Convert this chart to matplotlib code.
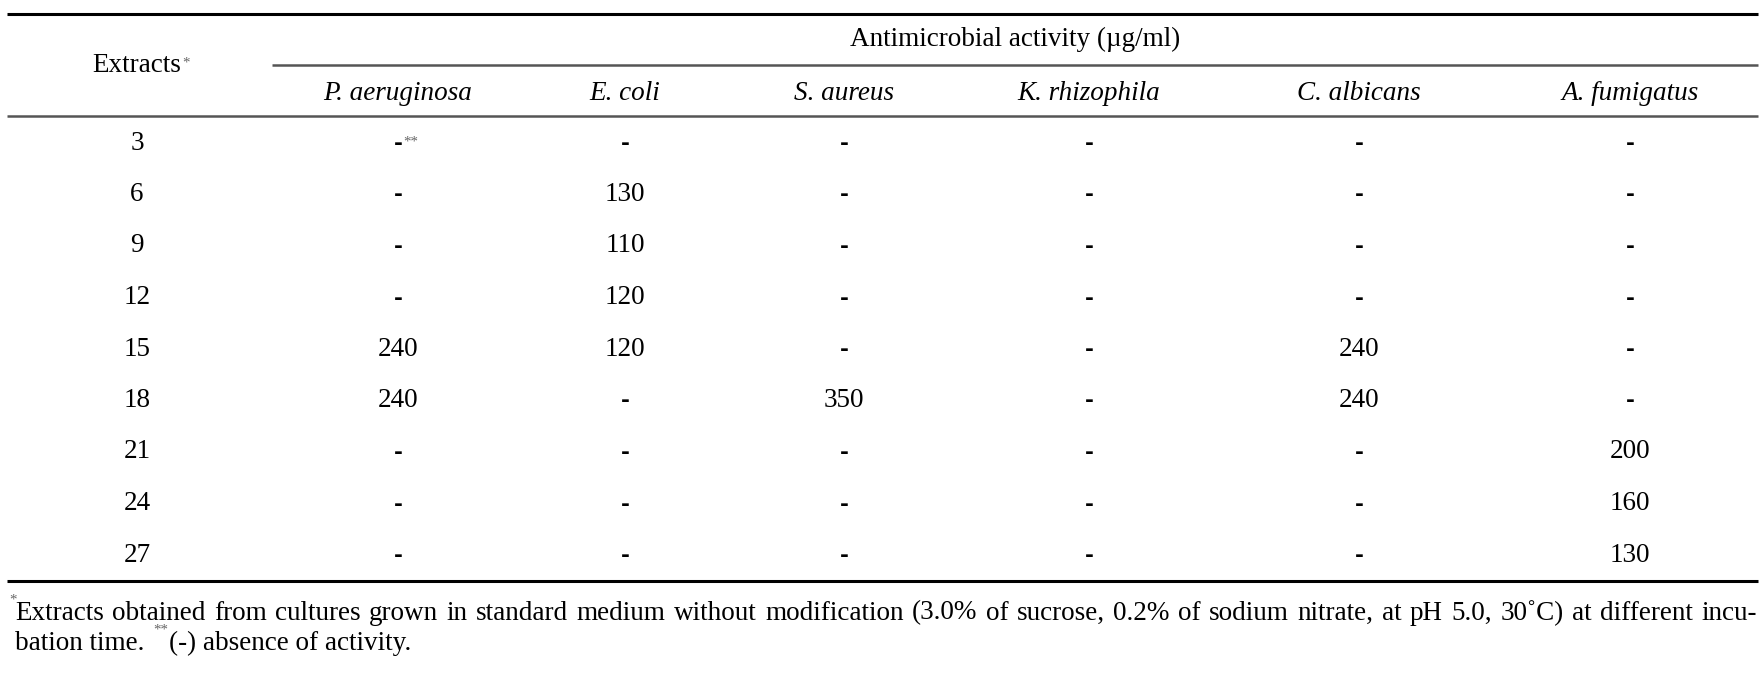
import matplotlib
matplotlib.use("Agg")
import matplotlib.pyplot as plt

# ---- data ----
extracts = [3, 6, 9, 12, 15, 18, 21, 24, 27]
species = ["P. aeruginosa", "E. coli", "S. aureus", "K. rhizophila", "C. albicans", "A. fumigatus"]
p_aeruginosa = [None, None, None, None, 240, 240, None, None, None]
e_coli = [None, 130, 110, 120, 120, None, None, None, None]
s_aureus = [None, None, None, None, None, 350, None, None, None]
k_rhizophila = [None, None, None, None, None, None, None, None, None]
c_albicans = [None, None, None, None, 240, 240, None, None, None]
a_fumigatus = [None, None, None, None, None, None, 200, 160, 130]
group_title = "Antimicrobial activity (\u00b5g/ml)"
row_header = "Extracts"
footnote1 = "Extracts obtained from cultures grown in standard medium without modification (3.0% of sucrose, 0.2% of sodium nitrate, at pH 5.0, 30\u02daC) at different incu-"
footnote2a = "bation time. "
footnote2b = "(-) absence of activity."

columns = [p_aeruginosa, e_coli, s_aureus, k_rhizophila, c_albicans, a_fumigatus]

# ---- layout ----
W, H = 1761, 677
FONT = "Liberation Serif"
FS = 19.5
SUP = FS * 0.55
fig = plt.figure(figsize=(W / 100, H / 100), dpi=100)
ax = fig.add_axes([0, 0, 1, 1])
ax.set_xlim(0, W)
ax.set_ylim(H, 0)
ax.axis("off")

col_x = [398, 625, 844, 1089, 1359, 1630]
ext_x = 137
y_top, y_sub, y_head, y_bot = 14, 65, 116, 581
row_y0, row_dy = 143, 51.5

ax.plot([7, 1758], [y_top, y_top], color="black", lw=2.2, solid_capstyle="butt")
ax.plot([272, 1758], [y_sub, y_sub], color="#555555", lw=1.8, solid_capstyle="butt")
ax.plot([7, 1758], [y_head, y_head], color="#555555", lw=1.8, solid_capstyle="butt")
ax.plot([7, 1758], [y_bot, y_bot], color="black", lw=2.2, solid_capstyle="butt")

ax.text(1015, 39, group_title, ha="center", va="center", fontsize=FS, family=FONT)
t_ext = ax.text(ext_x, 65, row_header, ha="center", va="center", fontsize=FS, family=FONT)
for x, name in zip(col_x, species):
    ax.text(x, 93, name, ha="center", va="center", fontsize=FS, family=FONT, style="italic")

dash_texts = {}
for i, e in enumerate(extracts):
    y = row_y0 + i * row_dy
    ax.text(ext_x, y, str(e), ha="center", va="center", fontsize=FS, family=FONT)
    for j, col in enumerate(columns):
        v = col[i]
        if v is None:
            t = ax.text(col_x[j], y + 1, "-", ha="center", va="center", fontsize=FS * 0.8,
                        family="DejaVu Sans", fontweight="bold")
            dash_texts[(i, j)] = t
        else:
            ax.text(col_x[j], y, str(v), ha="center", va="center", fontsize=FS, family=FONT)

fig.canvas.draw()
r = fig.canvas.get_renderer()
inv = ax.transData.inverted()

def width_of(s):
    t = ax.text(0, 0, s, fontsize=FS, family=FONT)
    bb = t.get_window_extent(renderer=r)
    t.remove()
    return bb.width  # pixels == data units here

# superscript after Extracts
bb = t_ext.get_window_extent(renderer=r)
x1, y1 = inv.transform((bb.x1, bb.y1))
ax.text(x1 + 1, y1 + 4, "*", ha="left", va="top", fontsize=SUP, family=FONT, color="#666666")
bb = dash_texts[(0, 0)].get_window_extent(renderer=r)
x1, y1 = inv.transform((bb.x1, bb.y1))
ax.text(x1 + 1, y1 + 2, "**", ha="left", va="top", fontsize=SUP, family=FONT, color="#666666")

# footnote line 1, justified between x_left and x_right
fn_y1, fn_y2 = 613, 643
x_left, x_right = 15, 1757
words = footnote1.split(" ")
wws = [width_of(w) for w in words]
gap = (x_right - x_left - sum(wws)) / (len(words) - 1)
x = x_left
for w, ww in zip(words, wws):
    ax.text(x, fn_y1, w, ha="left", va="center", fontsize=FS, family=FONT)
    x += ww + gap
ax.text(x_left - 6, fn_y1 - 13, "*", ha="left", va="center", fontsize=SUP, family=FONT, color="#666666")

# footnote line 2
t2 = ax.text(x_left, fn_y2, footnote2a, ha="left", va="center", fontsize=FS, family=FONT)
fig.canvas.draw()
bb2 = t2.get_window_extent(renderer=r)
x2, _ = inv.transform((bb2.x1, bb2.y1))
s2 = ax.text(x2 + 2, fn_y2 - 13, "**", ha="left", va="center", fontsize=SUP, family=FONT, color="#666666")
fig.canvas.draw()
bb3 = s2.get_window_extent(renderer=r)
x3, _ = inv.transform((bb3.x1, bb3.y1))
ax.text(x3 + 1, fn_y2, footnote2b, ha="left", va="center", fontsize=FS, family=FONT)

fig.savefig("out.png", dpi=100)
